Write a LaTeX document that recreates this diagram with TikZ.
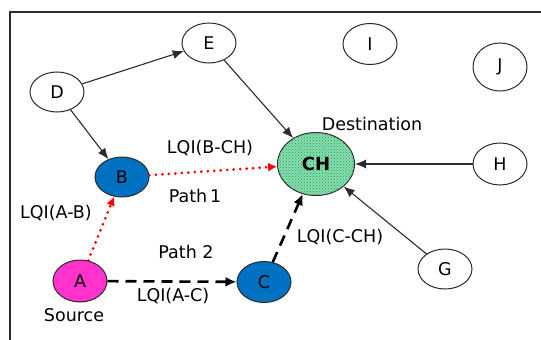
\documentclass[tikz,border=0pt]{standalone}
\usepackage{fontspec}
\setmainfont{DejaVu Sans}
\usetikzlibrary{shapes.geometric,arrows.meta,patterns}

\definecolor{nodeblue}{HTML}{0070C0}
\definecolor{srcpink}{HTML}{FF33CC}
\definecolor{chgreen}{HTML}{86DDAE}
\definecolor{chdots}{HTML}{2A9A5C}
\definecolor{edgegray}{HTML}{2B2B2B}

\tikzset{
  sensor/.style={ellipse, draw=edgegray, line width=1pt, inner sep=0pt,
    minimum width=#1, font=\fontsize{17.5}{20}\selectfont},
  sensor/.default=54pt,
  lbl/.style={font=\fontsize{17.5}{20}\selectfont, inner sep=0pt},
  link/.style={draw=edgegray, line width=1.1pt, -{Latex[length=11pt,width=9pt]}},
  redlink/.style={draw=red, line width=3pt, line cap=round,
    dash pattern=on 0pt off 6.5pt, -{Latex[length=9pt,width=9pt,line cap=butt]}},
  dashlink/.style={draw=black, line width=2.6pt, dash pattern=on 11pt off 7pt,
    -{Latex[length=11pt,width=10pt]}},
}

\begin{document}
\begin{tikzpicture}[x=1pt,y=-1pt]
  \useasboundingbox (0,0) rectangle (541,340);

  % frame edges
  \draw[edgegray, line width=1.4pt] (10,340) -- (10,12) -- (541,12);

  % plain nodes
  \node[sensor, minimum height=40pt] (D) at (57,92) {D};
  \node[sensor, minimum height=40pt] (E) at (209,43) {E};
  \node[sensor, minimum height=41pt] (I) at (370,44) {I};
  \node[sensor, minimum height=48pt] (J) at (500,67) {J};
  \node[sensor, minimum height=42pt] (H) at (500,164) {H};
  \node[sensor, minimum height=40pt] (G) at (445,269) {G};

  % path nodes
  \node[sensor, fill=nodeblue, minimum height=40pt] (B) at (122,177) {B};
  \node[sensor, fill=nodeblue, minimum height=41pt] (C) at (264,282) {C};
  \node[sensor, fill=srcpink, minimum height=42pt] (A) at (80,281) {A};

  % cluster head
  \node[ellipse, draw=edgegray, line width=1pt, inner sep=0pt,
    minimum width=77pt, minimum height=63pt, fill=chgreen,
    postaction={pattern=crosshatch dots, pattern color=chdots},
    font=\bfseries\fontsize{18}{20}\selectfont] (CH) at (316,164) {CH};

  % labels
  \node[lbl] (lDest) at (372,124) {Destination};
  \node[lbl] (lBCH) at (210,148) {LQI(B-CH)};
  \node[lbl] (lP1) at (195,196) {Path\,1};
  \node[lbl] (lAB) at (56,213) {LQI(A-B)};
  \node[lbl] (lP2) at (186,252) {Path 2};
  \node[lbl] (lAC) at (173,296) {LQI(A-C)};
  \node[lbl] (lSrc) at (74,315) {Source};
  \node[lbl] (lCCH) at (340,237) {LQI(C-CH)};

  % plain links
  \draw[link] (D) -- (E);
  \draw[link] (D) -- (B);
  \draw[link] (E) -- (CH);
  \draw[link] (H) -- (CH);
  \draw[link] (G) -- (CH);

  % path 1 (dotted red)
  \draw[redlink] (A) -- (B);
  \draw[redlink] (B) -- (CH);

  % path 2 (dashed black)
  \draw[dashlink] (A) -- (C);
  \draw[dashlink] (C) -- (CH);
\end{tikzpicture}
\end{document}
